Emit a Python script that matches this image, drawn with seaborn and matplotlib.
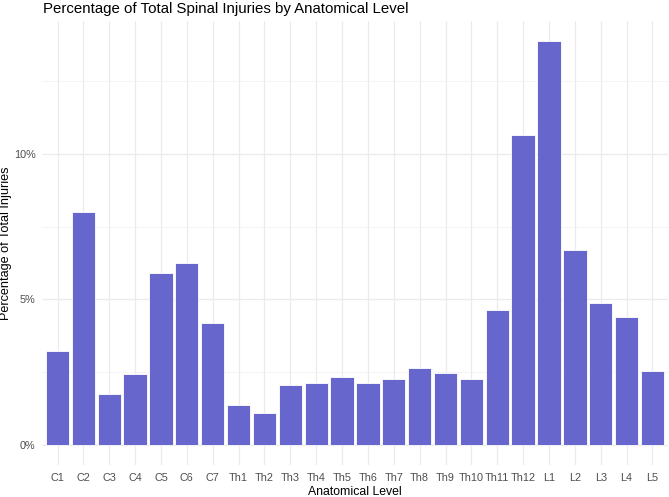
import numpy as np
import pandas as pd
import matplotlib.pyplot as plt
import seaborn as sns
from matplotlib.ticker import FixedLocator

levels = ["C1", "C2", "C3", "C4", "C5", "C6", "C7",
          "Th1", "Th2", "Th3", "Th4", "Th5", "Th6", "Th7", "Th8", "Th9",
          "Th10", "Th11", "Th12", "L1", "L2", "L3", "L4", "L5"]
pct = [3.24, 8.00, 1.75, 2.45, 5.92, 6.26, 4.19,
       1.36, 1.09, 2.06, 2.13, 2.32, 2.13, 2.25, 2.65, 2.47,
       2.26, 4.63, 10.63, 13.87, 6.71, 4.89, 4.38, 2.53]
y_ticks = [0, 5, 10]
y_tick_labels = ["0%", "5%", "10%"]

df = pd.DataFrame({"level": levels, "pct": pct})

sns.set_theme(style="whitegrid")
plt.rcParams["font.family"] = ["Liberation Sans", "DejaVu Sans"]

W, H = 669, 497
fig = plt.figure(figsize=(W / 100, H / 100), dpi=100)
ax = fig.add_axes([42 / W, 1 - 465 / H, (668 - 42) / W, (465 - 21) / H])

sns.barplot(data=df, x="level", y="pct", color="#6666CC", saturation=1,
            width=0.9, edgecolor="white", linewidth=0.6, ax=ax, zorder=3)

ymax = max(pct)
ax.set_xlim(-0.6, len(levels) - 0.4)
ax.set_ylim(-0.05 * ymax, 1.05 * ymax)

ax.yaxis.set_major_locator(FixedLocator(y_ticks))
ax.set_yticklabels(y_tick_labels)
ax.yaxis.set_minor_locator(FixedLocator([2.5, 7.5, 12.5]))

ax.grid(True, which="major", axis="both", color="#EBEBEB", linewidth=0.9, zorder=0)
ax.grid(True, which="minor", axis="y", color="#F2F2F2", linewidth=0.6, zorder=0)
ax.set_axisbelow(True)
ax.set_facecolor("white")
for s in ax.spines.values():
    s.set_visible(False)

ax.tick_params(axis="both", which="both", length=0, labelsize=7.8,
               labelcolor="#4D4D4D")
ax.tick_params(axis="x", pad=6)
ax.tick_params(axis="y", pad=4.5)

ax.set_xlabel("Anatomical Level", fontsize=8.8, color="black", labelpad=2)
ax.set_ylabel("Percentage of Total Injuries", fontsize=9.1, color="black")
ax.yaxis.set_label_coords((12.5 - 42) / 626, 0.5)

fig.text(43 / W, 1 - 12.7 / H, "Percentage of Total Spinal Injuries by Anatomical Level",
         fontsize=10.85, color="black", ha="left", va="baseline")

fig.savefig("out.png", dpi=100, facecolor="white")
